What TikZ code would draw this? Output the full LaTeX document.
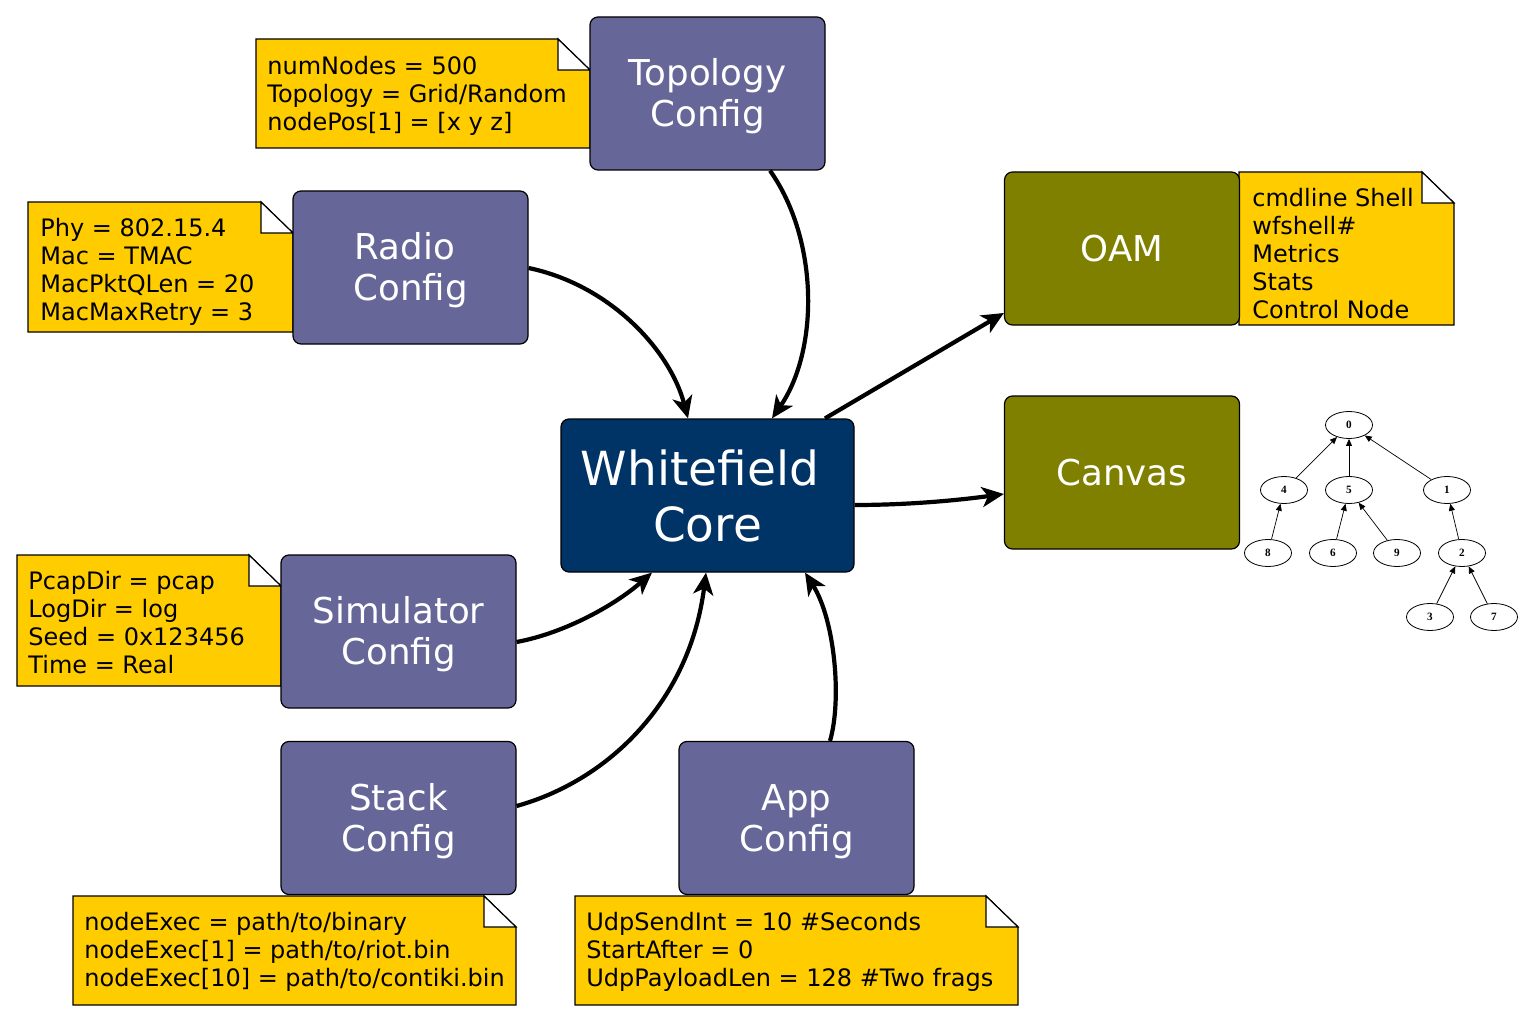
\documentclass[tikz,border=0pt]{standalone}
\usepackage{fontspec}
\setmainfont{DejaVu Sans}
\newfontfamily\treefont{Liberation Serif}
\usetikzlibrary{arrows.meta,shapes.geometric}
\definecolor{cfgcol}{HTML}{666699}
\definecolor{corecol}{HTML}{003366}
\definecolor{olivecol}{HTML}{808000}
\definecolor{notecol}{HTML}{FFCC00}
\newcommand\wfnote[4]{%
  \filldraw[fill=notecol,draw=black,line width=0.6pt]
    (#1,#2) -- (#3-32,#2) -- (#3,#2+31) -- (#3,#4) -- (#1,#4) -- cycle;
  \filldraw[fill=white,draw=black,line width=0.6pt]
    (#3-32,#2) -- (#3-32,#2+31) -- (#3,#2+31) -- cycle;}
\newcommand\trailsp{\rule{0.32em}{0pt}}
\newcommand\topstrut{\rule{0pt}{16.5pt}}
\tikzset{
  wfbox/.style={draw=black,line width=0.6pt,rounded corners=4pt,minimum width=117.5pt,
    minimum height=76.5pt,inner sep=0pt,text=white,align=center,
    font=\fontsize{17.8}{20.5}\selectfont},
  cfgbox/.style={wfbox,fill=cfgcol},
  olivebox/.style={wfbox,fill=olivecol},
  corebox/.style={wfbox,fill=corecol,minimum width=146.5pt,font=\fontsize{23.5}{28}\selectfont},
  notetext/.style={anchor=north west,inner sep=0pt,align=left,font=\fontsize{12}{14}\selectfont},
  conn/.style={line width=2.1pt,-{Stealth[length=11pt,width=10pt,inset=3pt]}},
  tnode/.style={ellipse,draw=black,line width=0.4pt,minimum width=23.5pt,minimum height=13.5pt,
    inner sep=0pt,font=\treefont\bfseries\fontsize{5.6}{6}\selectfont},
  tedge/.style={line width=0.35pt,-{Triangle[length=3.5pt,width=3pt]}}
}
\begin{document}
\begin{tikzpicture}[x=0.5pt,y=-0.5pt]
\useasboundingbox (0,0) rectangle (1538,1022);
% notes
\wfnote{256}{39}{590}{148}
\wfnote{28}{202}{293}{332}
\wfnote{17}{555}{281}{686}
\wfnote{73}{896}{516}{1005}
\wfnote{575}{896}{1018}{1005}
\wfnote{1239}{172}{1454}{325}
\node[notetext] (ntopo) at (267,56) {numNodes = 500\\Topology = Grid/Random\\nodePos[1] = [x y z]};
\node[notetext] (nradio) at (40,218) {Phy = 802.15.4\\Mac = TMAC\\MacPktQLen = 20\\MacMaxRetry = 3};
\node[notetext] (nsim) at (28,571) {PcapDir = pcap\\LogDir = log\\Seed = 0x123456\\Time = Real};
\node[notetext] (nstack) at (84,912) {nodeExec = path/to/binary\\nodeExec[1] = path/to/riot.bin\\nodeExec[10] = path/to/contiki.bin};
\node[notetext] (napp) at (586,912) {UdpSendInt = 10 \#Seconds\\StartAfter = 0\\UdpPayloadLen = 128 \#Two frags};
\node[notetext] (noam) at (1252,188) {cmdline Shell\\wfshell\#\\Metrics\\Stats\\Control Node};
% boxes
\node[cfgbox] (topo) at (707.5,93.5) {\topstrut Topology\\Config};
\node[cfgbox] (radio) at (410.5,267.5) {\topstrut Radio\trailsp\\Config};
\node[cfgbox] (sim) at (398.5,631.5) {\topstrut Simulator\\Config};
\node[cfgbox] (stack) at (398.5,818) {\topstrut Stack\\Config};
\node[cfgbox] (app) at (796.5,818) {\topstrut App\\Config};
\node[corebox] (core) at (707.5,495.5) {Whitefield\trailsp\\Core};
\node[olivebox] (oam) at (1122,248.5) {OAM};
\node[olivebox] (canvas) at (1122,472.5) {Canvas};
% connectors
\coordinate (t1) at ([xshift=31.25pt]topo.south);
\coordinate (c1) at ([xshift=32.25pt]core.north);
\draw[conn] (t1) .. controls (819,240) and (819,350) .. (c1);
\coordinate (r1) at ([yshift=-0.25pt]radio.east);
\coordinate (c2) at ([xshift=-9.75pt]core.north);
\draw[conn] (r1) .. controls (610,285) and (670,350) .. (c2);
\coordinate (s1) at ([yshift=-5.25pt]sim.east);
\coordinate (c3) at ([xshift=-27.75pt]core.south);
\draw[conn] (s1) .. controls (565,633) and (615,605) .. (c3);
\coordinate (k1) at ([yshift=6pt]stack.east);
\coordinate (c4) at ([xshift=-0.75pt]core.south);
\draw[conn] (k1) .. controls (610,780) and (690,700) .. (c4);
\coordinate (a1) at ([xshift=16.75pt]app.north);
\coordinate (c5) at ([xshift=48.75pt]core.south);
\draw[conn] (a1) .. controls (842,700) and (835,620) .. (c5);
\coordinate (c6) at ([xshift=58.75pt]core.north);
\draw[conn] (c6) -- (oam.south west |- 0,313);
\coordinate (c7) at ([yshift=-4.75pt]core.east);
\draw[conn] (c7) .. controls (910,505) and (960,500) .. ([yshift=-10.75pt]canvas.west);
% tree
\node[tnode] (t0) at (1349,425) {0};
\node[tnode] (t4) at (1284,490) {4};
\node[tnode] (t5) at (1349,490) {5};
\node[tnode] (tone) at (1447,490) {1};
\node[tnode] (t8) at (1268,553) {8};
\node[tnode] (t6) at (1333,553) {6};
\node[tnode] (t9) at (1397,553) {9};
\node[tnode] (t2) at (1462,553) {2};
\node[tnode] (t3) at (1430,617) {3};
\node[tnode] (t7) at (1494,617) {7};
\draw[tedge] (t4) -- (t0);
\draw[tedge] (t5) -- (t0);
\draw[tedge] (tone) -- (t0);
\draw[tedge] (t8) -- (t4);
\draw[tedge] (t6) -- (t5);
\draw[tedge] (t9) -- (t5);
\draw[tedge] (t2) -- (tone);
\draw[tedge] (t3) -- (t2);
\draw[tedge] (t7) -- (t2);
\end{tikzpicture}
\end{document}
